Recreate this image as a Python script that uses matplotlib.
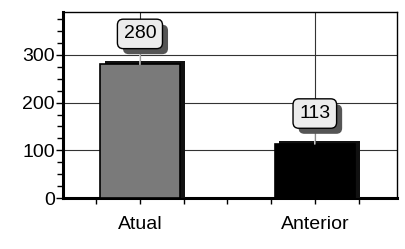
import matplotlib.pyplot as plt
import matplotlib.patheffects as pe
import numpy as np
from matplotlib.ticker import MultipleLocator

categories = ["Atual", "Anterior"]
values = [280, 113]
bar_colors = ["#7a7a7a", "#000000"]

plt.rcParams["font.family"] = ["Liberation Sans", "DejaVu Sans"]

fig = plt.figure(figsize=(4.06, 2.49), dpi=100)
ax = fig.add_axes([63 / 406, 1 - 198 / 249, 334 / 406, 186 / 249])

x = np.arange(len(categories))
# two shadows: one straight right (reaches the floor), one up-right for the top face
shadow = [pe.SimplePatchShadow(offset=(3.5, 0), shadow_rgbFace="#111111", alpha=1.0),
          pe.SimplePatchShadow(offset=(3.5, 2.5), shadow_rgbFace="#111111", alpha=1.0),
          pe.Normal()]
bars = ax.bar(x, values, width=0.46, color=bar_colors, edgecolor="black",
              linewidth=1.2, zorder=3)
for b in bars:
    b.set_path_effects(shadow)

# value boxes with a drop shadow, as in the old 3D chart
for xi, v in zip(x, values):
    ax.annotate(str(v), xy=(xi, v), xytext=(0, 22), textcoords="offset points",
                ha="center", va="center", fontsize=14, zorder=5,
                bbox=dict(boxstyle="round,pad=0.32,rounding_size=0.3",
                          fc="#ececec", ec="black", lw=1.0,
                          path_effects=[pe.SimplePatchShadow(offset=(4, -4),
                                                             shadow_rgbFace="#555555",
                                                             alpha=1.0),
                                        pe.Normal()]),
                arrowprops=dict(arrowstyle="-", color="#dddddd", lw=1.0,
                                shrinkA=0, shrinkB=0))

ax.set_xlim(-0.44, 1.47)
ax.set_ylim(0, 390)
ax.set_xticks(x)
ax.set_xticklabels(categories, fontsize=14)
ax.xaxis.set_minor_locator(MultipleLocator(0.25))
ax.set_yticks([0, 100, 200, 300])
ax.yaxis.set_minor_locator(MultipleLocator(25))
ax.tick_params(axis="y", labelsize=14, length=5, width=1, pad=1)
ax.tick_params(axis="y", which="minor", length=4, width=1)
ax.tick_params(axis="x", which="both", length=4, width=1, pad=9)

ax.grid(True, which="major", color="#333333", linewidth=0.8, zorder=0)
for side in ["top", "right"]:
    ax.spines[side].set_linewidth(1.0)
ax.spines["left"].set_linewidth(2.2)
ax.spines["bottom"].set_linewidth(2.2)

fig.savefig("out.png", dpi=100)
